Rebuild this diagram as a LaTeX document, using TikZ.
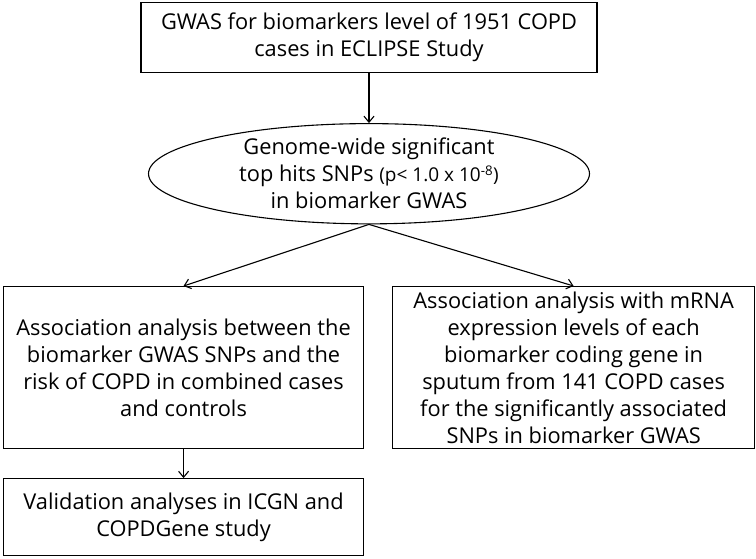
\documentclass[tikz,border=0pt]{standalone}
\usepackage{fontspec}
\setmainfont{Open Sans}
\usetikzlibrary{
arrows.meta,
positioning,
shapes
}
\tikzset{>={Straight Barb[length=6pt,width=10pt]}}

\begin{document}
\begin{tikzpicture}[x=1pt, y=1pt, line width=1.1pt, font=\fontsize{21.8}{27}\selectfont]
		\tikzset{box/.style={draw,align=center,inner sep=0pt}}
		
		\useasboundingbox (0,0) rectangle (756,-558);
		
		\node[box,minimum width=456pt,minimum height=70pt] (gwas) at (369,-37.5) {GWAS for biomarkers level of 1951 COPD\\cases in ECLIPSE Study};
		
		\node[draw,ellipse,align=center,inner sep=0pt,minimum width=441pt,minimum height=92pt,below=50pt of gwas] (tophits) {Genome-wide significant\\top hits SNPs {\fontsize{19}{27}\selectfont(p< 1.0 x 10\textsuperscript{-8})}\\in biomarker GWAS};
		
		\node[box,minimum width=360pt,minimum height=162pt,anchor=north west] (assocA) at (3,-286) {Association analysis between the\\biomarker GWAS SNPs and the\\risk of COPD in combined cases\\and controls};
		\node[box,minimum width=362pt,minimum height=162pt,right=28pt of assocA] (assocB) {Association analysis with mRNA\\expression levels of each\\biomarker coding gene in\\sputum from 141 COPD cases\\for the significantly associated\\SNPs in biomarker GWAS};
		
		\node[box,minimum width=360pt,minimum height=77pt,below=29pt of assocA] (valid) {Validation analyses in ICGN and\\COPDGene study};
		
		\draw[->] (gwas) -- (tophits);
		\draw[->] (tophits.south) -- (assocA.north);
		\draw[->] (tophits.south) -- (assocB.north);
		\draw[->] (assocA) -- (valid);
	\end{tikzpicture}
\end{document}
